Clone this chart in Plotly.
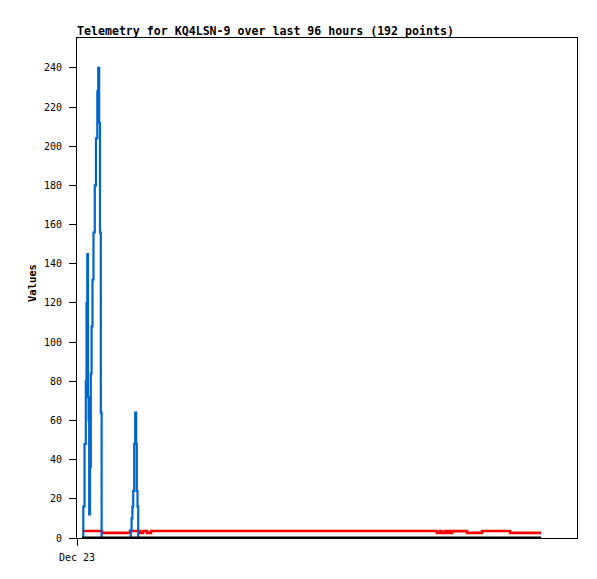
import plotly.graph_objects as go

# x values are hours since Dec 23 00:00
blue_x = [1.05, 1.15, 1.32, 1.57, 1.84, 1.99, 2.15, 2.30, 2.43, 2.55, 2.72, 2.89, 3.05,
          3.24, 3.45, 3.72, 3.97, 4.25, 4.44, 4.64, 4.81, 4.98, 5.15,
          11.09, 11.26, 11.42, 11.59, 11.76, 11.97, 12.18, 12.38, 12.51, 12.66, 12.80, 97.07]
blue_y = [0, 0, 16, 48, 80, 120, 145, 72, 60, 12, 36, 84, 108,
          132, 156, 180, 204, 228, 240, 212, 156, 64, 0,
          0, 4, 10, 16, 24, 48, 64, 48, 24, 16, 0, 0]

red_x = [1.05, 5.23, 11.09, 13.18, 13.81, 14.64, 15.48, 75.31, 75.94, 76.26, 76.99,
         77.30, 77.82, 78.14, 78.45, 81.59, 84.73, 90.59, 97.07]
red_y = [3.6, 2.6, 3.6, 2.6, 3.6, 2.6, 3.6, 2.6, 3.6, 2.6, 3.6,
         2.6, 3.6, 2.6, 3.5, 2.6, 3.6, 2.6, 2.6]

black_x = [1.05, 97.07]
black_y = [0, 0]

y_ticks = [0, 20, 40, 60, 80, 100, 120, 140, 160, 180, 200, 220, 240]
x_tickvals = [0]
x_ticktext = ["Dec 23"]

title_text = "Telemetry for KQ4LSN-9 over last 96 hours (192 points)"
y_title = "Values"

W, H = 597, 579
OFF = 8  # page body offset
ML, MR, MT, MB = 77 - OFF, 20 + OFF, 38 - OFF, 41 + OFF

fig = go.Figure()
fig.add_trace(go.Scatter(x=red_x, y=red_y, mode="lines", line=dict(color="#ff0000", width=2.6, shape="hv"),
                         hoverinfo="skip", showlegend=False))
fig.add_trace(go.Scatter(x=blue_x, y=blue_y, mode="lines", line=dict(color="#0066cc", width=2.2, shape="hv"),
                         hoverinfo="skip", showlegend=False))
fig.add_trace(go.Scatter(x=black_x, y=black_y, mode="lines", line=dict(color="#000000", width=3),
                         hoverinfo="skip", showlegend=False))

mono = "DejaVu Sans Mono"
fig.update_layout(
    width=W, height=H,
    margin=dict(l=ML, r=MR, t=MT, b=MB),
    paper_bgcolor="white", plot_bgcolor="white",
    title=dict(text="<b>" + title_text + "</b>", x=ML / W, xanchor="left", xref="container",
               y=1 - (30.5 - OFF) / H, yanchor="middle", yref="container",
               font=dict(family=mono, size=11.6, color="black")),
    xaxis=dict(range=[0, 104.6], tickvals=x_tickvals, ticktext=x_ticktext, showgrid=False, zeroline=False,
               showline=True, mirror=True, linecolor="black", linewidth=1,
               ticks="outside", ticklen=7, tickcolor="black", ticklabelstandoff=3,
               tickfont=dict(family=mono, size=10, color="black")),
    yaxis=dict(range=[0, 255.3], tickvals=y_ticks, showgrid=False, zeroline=False,
               showline=True, mirror=True, linecolor="black", linewidth=1,
               ticks="outside", ticklen=7, tickcolor="black", ticklabelstandoff=5,
               tickfont=dict(family=mono, size=10, color="black")),
    annotations=[dict(text="<b>" + y_title + "</b>", textangle=-90, xref="paper", yref="paper",
                      x=(32 - 77) / 500, y=0.51, xanchor="center", yanchor="middle",
                      showarrow=False, font=dict(family=mono, size=10.5, color="black"))],
)

fig.write_html("out.html")
